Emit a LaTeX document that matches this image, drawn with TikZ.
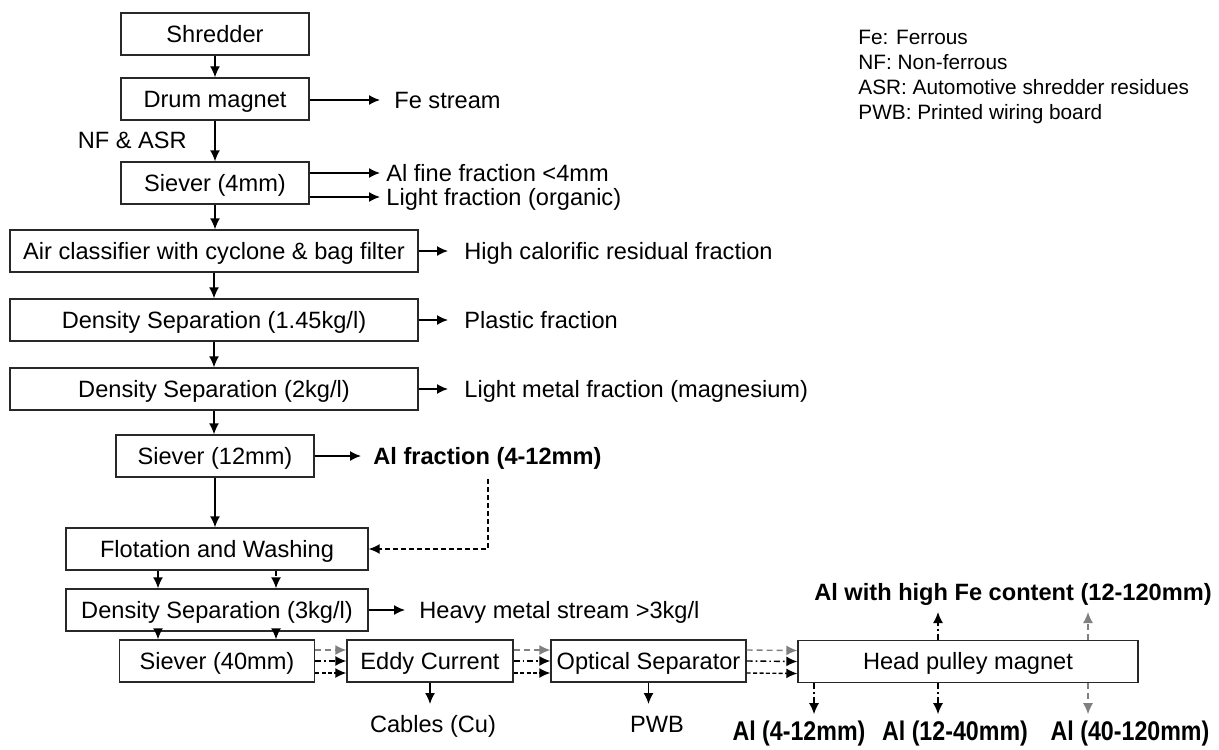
\documentclass[tikz,border=0pt]{standalone}
\usepackage{fontspec}
\setmainfont{Liberation Sans}
\usetikzlibrary{arrows.meta,calc}
\definecolor{mygray}{RGB}{128,128,128}
\definecolor{boxline}{RGB}{40,40,40}
\tikzset{
  box/.style={draw=boxline, line width=0.7pt, inner sep=0pt, minimum height=21pt,
    text height=10pt, text depth=1.6pt, font=\fontsize{11.8}{14}\selectfont},
  lbl/.style={inner sep=0pt, text height=10pt, text depth=1.6pt, font=\fontsize{11.8}{14}\selectfont},
  blbl/.style={inner sep=0pt, text height=10pt, text depth=1.6pt, font=\fontsize{11.8}{14}\selectfont\bfseries},
  nlbl/.style={inner sep=0pt, font=\fontsize{13.5}{15}\selectfont\bfseries},
  arr/.style={-{Latex[length=5.5pt,width=5pt]}, line width=0.7pt},
  gdash/.style={arr, draw=mygray, dash pattern=on 3pt off 2pt},
  ddot/.style={arr, dash pattern=on 3pt off 1.5pt on 0.8pt off 1.5pt},
  sdash/.style={arr, dash pattern=on 2pt off 1.2pt},
  bdash/.style={arr, dash pattern=on 2.5pt off 1.5pt},
}
\begin{document}
\begin{tikzpicture}[x=0.5pt,y=-0.5pt]
\useasboundingbox (0,0) rectangle (1219,749);
% main column
\node[box, minimum width=94pt]  (shred)  at (215,34)    {Shredder};
\node[box, minimum width=94pt]  (drum)   at (215,99)    {Drum magnet};
\node[box, minimum width=94pt]  (siev4)  at (215,183)   {Siever (4mm)};
\node[box, minimum width=204pt] (air)    at (214,251)   {Air classifier with cyclone \& bag filter};
\node[box, minimum width=204pt] (dsa)    at (214,320)   {Density Separation (1.45kg/l)};
\node[box, minimum width=204pt] (dsb)    at (214,389)   {Density Separation (2kg/l)};
\node[box, minimum width=99pt]  (siev12) at (215,456)   {Siever (12mm)};
\node[box, minimum width=151pt] (flot)   at (217,549)   {Flotation and Washing};
\node[box, minimum width=151pt] (dsc)    at (217,610)   {Density Separation (3kg/l)};
\node[box, minimum width=97.5pt](siev40) at (217,661)   {Siever (40mm)};
\node[box, minimum width=83pt]  (eddy)   at (430,661)   {Eddy Current};
\node[box, minimum width=97.5pt](opt)    at (648.5,661) {Optical Separator};
\node[box, minimum width=170pt] (head)   at (968,661.5) {Head pulley magnet};

% side labels
\node[lbl, anchor=west] (fe)     at (394,100) {Fe stream};
\node[lbl, anchor=east] (nfasr)  at (187,140) {NF \& ASR};
\node[lbl, anchor=west] (alfine) at (386,173) {Al fine fraction <4mm};
\node[lbl, anchor=west] (light)  at (386,197) {Light fraction (organic)};
\node[lbl, anchor=west] (hcal)   at (464,251) {High calorific residual fraction};
\node[lbl, anchor=west] (plast)  at (464,320) {Plastic fraction};
\node[lbl, anchor=west] (lmet)   at (464,389) {Light metal fraction (magnesium)};
\node[blbl, anchor=west] (alfr)  at (373,456) {Al fraction (4-12mm)};
\node[lbl, anchor=west] (heavy)  at (419,610) {Heavy metal stream >3kg/l};
\node[lbl] (cables) at (433,724) {Cables (Cu)};
\node[lbl] (pwb)    at (657,724) {PWB};
\node[nlbl] (a412)  at (799,734) {\scalebox{0.86}[1]{Al (4-12mm)}};
\node[nlbl] (a1240) at (955,734) {\scalebox{0.86}[1]{Al (12-40mm)}};
\node[nlbl] (a40120) at (1130,734) {\scalebox{0.86}[1]{Al (40-120mm)}};
\node[blbl] (highfe) at (1013,592) {Al with high Fe content (12-120mm)};

% legend
\node[inner sep=0pt, anchor=north west, align=left, font=\fontsize{10.4}{12.4}\selectfont] (legend) at (858,30)
  {Fe: Ferrous\\NF: Non-ferrous\\ASR: Automotive shredder residues\\PWB: Printed wiring board};

% main vertical arrows
\draw[arr] (shred) -- (drum);
\draw[arr] (drum) -- (siev4);
\draw[arr] (siev4.south) -- (siev4.south |- air.north);
\draw[arr] (air.south) -- (air.south |- dsa.north);
\draw[arr] (dsa) -- (dsb);
\draw[arr] (dsb.south) -- (dsb.south |- siev12.north);
\draw[arr] (siev12.south) -- (siev12.south |- flot.north);
\draw[arr] ([xshift=-29.5pt]flot.south) -- ([xshift=-29.5pt]dsc.north);
\draw[bdash] ([xshift=29.5pt]flot.south) -- ([xshift=29.5pt]dsc.north);
\draw[arr] ([xshift=-29.5pt]dsc.south) -- ([xshift=-29.5pt]siev40.north);
\draw[bdash] ([xshift=29.5pt]dsc.south) -- ([xshift=29.5pt]siev40.north);

% side arrows
\draw[arr] (drum.east |- fe.west) -- ([xshift=-7pt]fe.west);
\draw[arr] (siev4.east |- alfine.west) -- ([xshift=-3pt]alfine.west);
\draw[arr] (siev4.east |- light.west) -- ([xshift=-3pt]light.west);
\draw[arr] (air.east |- hcal.west) -- ([xshift=-8pt]hcal.west);
\draw[arr] (dsa.east |- plast.west) -- ([xshift=-8pt]plast.west);
\draw[arr] (dsb.east |- lmet.west) -- ([xshift=-8pt]lmet.west);
\draw[arr] (siev12.east |- alfr.west) -- ([xshift=-6pt]alfr.west);
\draw[arr] (dsc.east |- heavy.west) -- ([xshift=-7pt]heavy.west);

% feedback
\coordinate (fb) at (488,479);
\draw[bdash] (fb) |- (flot.east);

% bottom chain
\foreach \a/\b in {siev40/eddy, eddy/opt, opt/head}{
  \draw[gdash] ([yshift=5.5pt]\a.east) -- ([yshift=5.5pt]\b.west);
  \draw[ddot]  (\a.east) -- (\b.west);
  \draw[sdash] ([yshift=-6pt]\a.east) -- ([yshift=-6pt]\b.west);
}
\draw[arr] (eddy.south) -- ([yshift=4pt]eddy.south |- cables.north);
\draw[arr] (opt.south) -- ([yshift=4pt]opt.south |- pwb.north);

% head pulley outputs
\draw[ddot]  ([xshift=-77pt]head.south) -- ++(0,31);
\draw[ddot]  ([xshift=-15pt]head.south) -- ++(0,31);
\draw[gdash] ([xshift=60pt]head.south) -- ++(0,31);
\draw[ddot]  ([xshift=-15pt]head.north) -- ([xshift=-15pt,yshift=-4pt]head.north |- highfe.south);
\draw[gdash] ([xshift=60pt]head.north) -- ([xshift=60pt,yshift=-4pt]head.north |- highfe.south);
\end{tikzpicture}
\end{document}
